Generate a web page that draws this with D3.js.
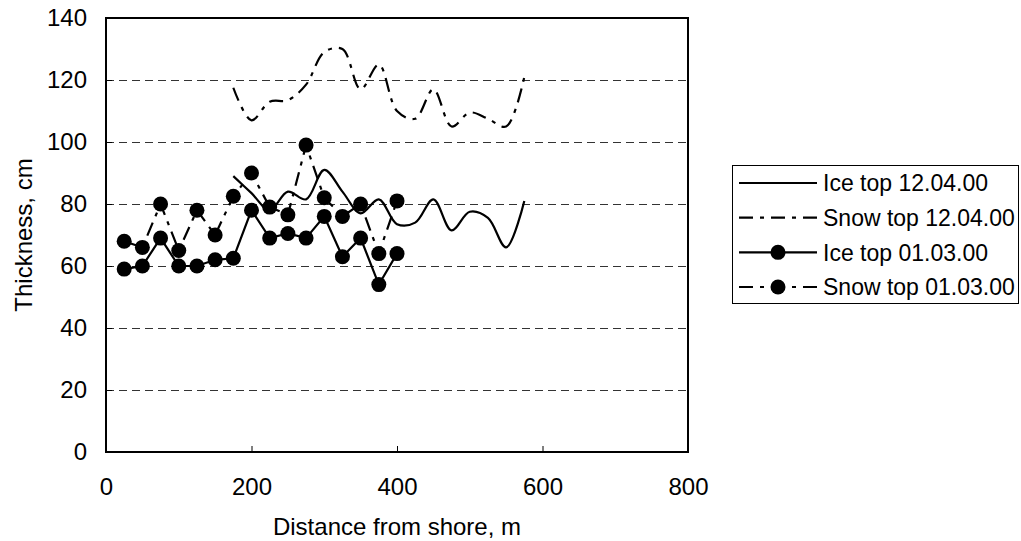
<!DOCTYPE html>
<html>
<head>
<meta charset="utf-8">
<script src="https://cdn.jsdelivr.net/npm/d3@7"></script>
<style>
  body { margin: 0; background: #fff; }
  svg { display: block; font-family: "Liberation Sans", Arial, sans-serif; }
</style>
</head>
<body>
<svg id="chart" width="1021" height="541"></svg>
<script>
// Data
const xTicks = [0, 200, 400, 600, 800];
const yTicks = [0, 20, 40, 60, 80, 100, 120, 140];

// 12.04.00 survey (smoothed lines)
const dist1204 = [175, 200, 225, 250, 275, 300, 325, 350, 375, 400, 425, 450, 475, 500, 525, 550, 575];
const ice1204 = [89, 83.5, 78, 84, 81.5, 91, 84, 77, 81.5, 73.5, 74, 81.5, 71.5, 77.5, 75.5, 66, 81];
const snow1204 = [117.5, 107, 113, 113.5, 118.5, 129, 130, 117, 125, 110, 107.5, 117, 105, 109.5, 107.5, 105, 121];

// 01.03.00 survey (markers)
const dist0103 = [25, 50, 75, 100, 125, 150, 175, 200, 225, 250, 275, 300, 325, 350, 375, 400];
const ice0103 = [59, 60, 69, 60, 60, 62, 62.5, 78, 69, 70.5, 69, 76, 63, 69, 54, 64];
const snow0103 = [68, 66, 80, 65, 78, 70, 82.5, 90, 79, 76.5, 99, 82, 76, 80, 64, 81];

const seriesNames = ["Ice top 12.04.00", "Snow top 12.04.00", "Ice top 01.03.00", "Snow top 01.03.00"];

const svg = d3.select('#chart');
const dashDot = '14,7,4,7';

const x = d3.scaleLinear().domain([0, 800]).range([106, 688]);
const y = d3.scaleLinear().domain([0, 140]).range([452, 18]);

// grid lines
svg.append('g')
  .selectAll('line')
  .data(yTicks.filter(d => d > 0 && d < 140))
  .enter()
  .append('line')
  .attr('x1', x(0))
  .attr('x2', x(800))
  .attr('y1', d => Math.round(y(d)) + 0.5)
  .attr('y2', d => Math.round(y(d)) + 0.5)
  .attr('stroke', '#333')
  .attr('stroke-width', 1)
  .attr('stroke-dasharray', '8,5');

// axes
const xAxis = d3.axisBottom(x).tickValues(xTicks).tickSizeInner(-6).tickSizeOuter(0).tickPadding(26);
const yAxis = d3.axisLeft(y).tickValues(yTicks).tickSizeInner(-6).tickSizeOuter(0).tickPadding(19);

const gx = svg.append('g').attr('transform', `translate(0, ${y(0)})`).call(xAxis);
const gy = svg.append('g').attr('transform', `translate(${x(0)}, 0)`).call(yAxis);
[gx, gy].forEach(g => {
  g.select('.domain').remove();
  g.selectAll('.tick line').attr('stroke', '#000');
  g.selectAll('.tick text')
    .attr('fill', '#000')
    .attr('font-size', '24px')
    .attr('font-family', '"Liberation Sans", Arial, sans-serif');
});

// plot frame
svg.append('rect')
  .attr('x', x(0))
  .attr('y', y(140))
  .attr('width', x(800) - x(0))
  .attr('height', y(0) - y(140))
  .attr('fill', 'none')
  .attr('stroke', '#000')
  .attr('stroke-width', 2);

// lines
const smooth = d3.line().x(d => x(d[0])).y(d => y(d[1])).curve(d3.curveCatmullRom.alpha(0.5));
const straight = d3.line().x(d => x(d[0])).y(d => y(d[1]));

svg.append('path')
  .datum(d3.zip(dist1204, ice1204))
  .attr('d', smooth)
  .attr('fill', 'none')
  .attr('stroke', '#000')
  .attr('stroke-width', 2.2);

svg.append('path')
  .datum(d3.zip(dist1204, snow1204))
  .attr('d', smooth)
  .attr('fill', 'none')
  .attr('stroke', '#000')
  .attr('stroke-width', 2.2)
  .attr('stroke-dasharray', dashDot);

svg.append('path')
  .datum(d3.zip(dist0103, ice0103))
  .attr('d', straight)
  .attr('fill', 'none')
  .attr('stroke', '#000')
  .attr('stroke-width', 2.2);

svg.append('path')
  .datum(d3.zip(dist0103, snow0103))
  .attr('d', straight)
  .attr('fill', 'none')
  .attr('stroke', '#000')
  .attr('stroke-width', 2.2)
  .attr('stroke-dasharray', dashDot);

// markers
[ice0103, snow0103].forEach(vals => {
  svg.append('g')
    .selectAll('circle')
    .data(d3.zip(dist0103, vals))
    .enter()
    .append('circle')
    .attr('cx', d => x(d[0]))
    .attr('cy', d => y(d[1]))
    .attr('r', 7.5)
    .attr('fill', '#000');
});

// axis titles
svg.append('text')
  .attr('x', 397)
  .attr('y', 535)
  .attr('text-anchor', 'middle')
  .attr('font-size', '24px')
  .text('Distance from shore, m');

svg.append('text')
  .attr('transform', 'translate(32, 235) rotate(-90)')
  .attr('text-anchor', 'middle')
  .attr('font-size', '24px')
  .text('Thickness, cm');

// legend
const legend = svg.append('g');
legend.append('rect')
  .attr('x', 732.5)
  .attr('y', 165.5)
  .attr('width', 286)
  .attr('height', 138)
  .attr('fill', '#fff')
  .attr('stroke', '#000')
  .attr('stroke-width', 1);

const legendY = d3.scalePoint().domain(seriesNames).range([183, 287]);
const dashes = [null, dashDot, null, dashDot];
const marks = [false, false, true, true];

seriesNames.forEach((name, i) => {
  const ly = legendY(name);
  legend.append('line')
    .attr('x1', 739)
    .attr('x2', 817)
    .attr('y1', ly)
    .attr('y2', ly)
    .attr('stroke', '#000')
    .attr('stroke-width', 2.2)
    .attr('stroke-dasharray', dashes[i]);
  if (marks[i]) {
    legend.append('circle')
      .attr('cx', 778)
      .attr('cy', ly)
      .attr('r', 7.5)
      .attr('fill', '#000');
  }
  legend.append('text')
    .attr('x', 823)
    .attr('y', ly)
    .attr('dy', '0.36em')
    .attr('font-size', '23px')
    .text(name);
});
</script>
</body>
</html>
